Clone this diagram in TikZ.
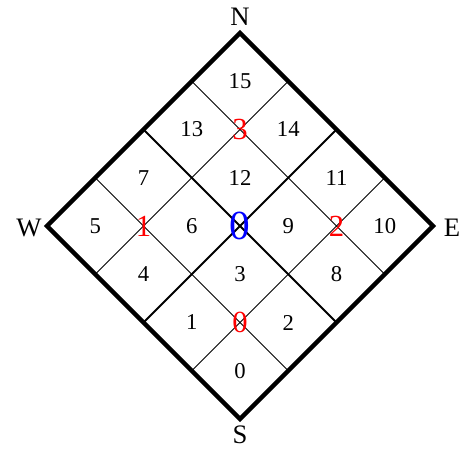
\documentclass[tikz,border=0pt]{standalone}
\usepackage{fontspec}
\setmainfont{Liberation Serif}
\usetikzlibrary{calc}
\tikzset{
  outline/.style={line width=3.3pt},
  halfline/.style={line width=1.5pt},
  gridline/.style={line width=0.6pt},
  cellnum/.style={font=\fontsize{17}{17}\selectfont, inner sep=0pt},
  quadnum/.style={text=red, font=\fontsize{23}{23}\selectfont, inner sep=0pt},
  rootnum/.style={text=blue, font=\fontsize{31}{31}\selectfont, inner sep=0pt},
  compass/.style={font=\fontsize{20}{20}\selectfont, inner sep=0pt}
}
\begin{document}
\begin{tikzpicture}[x=0.75pt,y=0.75pt]
  \useasboundingbox (-240,-226) rectangle (233,226);
  \coordinate (S) at (0,-193);
  \coordinate (E) at (193,0);
  \coordinate (N) at (0,193);
  \coordinate (W) at (-193,0);

  % quarter lines
  \foreach \k in {1,3} {
    \draw[gridline] ($(S)!\k/4!(E)$) -- ($(W)!\k/4!(N)$);
    \draw[gridline] ($(S)!\k/4!(W)$) -- ($(E)!\k/4!(N)$);
  }
  % half lines
  \draw[halfline] ($(S)!0.5!(E)$) -- ($(W)!0.5!(N)$);
  \draw[halfline] ($(S)!0.5!(W)$) -- ($(E)!0.5!(N)$);
  \draw[outline] (S) -- (E) -- (N) -- (W) -- cycle;

  % cells: i along S-E, j along S-W
  \foreach \i/\j/\n in {0/0/0, 0/1/1, 1/0/2, 1/1/3,
                        0/2/4, 0/3/5, 1/2/6, 1/3/7,
                        2/0/8, 2/1/9, 3/0/10, 3/1/11,
                        2/2/12, 2/3/13, 3/2/14, 3/3/15}
    \node[cellnum] (cell\n) at ({48.25*(\i-\j)}, {-193+48.25*(\i+\j+1)}) {\n};

  \node[quadnum] (quad0) at (0,-96.5) {0};
  \node[quadnum] (quad1) at (-96.5,0) {1};
  \node[quadnum] (quad2) at (96.5,0) {2};
  \node[quadnum] (quad3) at (0,96.5) {3};
  \node[rootnum] (root) at (0,0) {0};

  \node[compass] (labN) at (0,209) {N};
  \node[compass] (labS) at (0,-209) {S};
  \node[compass] (labW) at (-211,-2) {W};
  \node[compass] (labE) at (212,-2) {E};
\end{tikzpicture}
\end{document}
